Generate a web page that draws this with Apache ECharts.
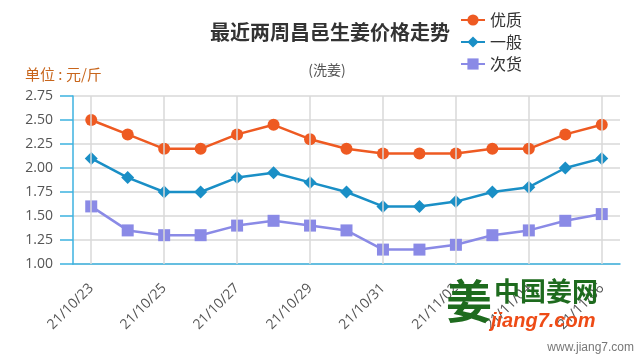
<!DOCTYPE html>
<html><head><meta charset="utf-8">
<script src="https://cdn.jsdelivr.net/npm/echarts@6/dist/echarts.min.js"></script>
<style>html,body{margin:0;padding:0;background:#fff}#c{width:640px;height:360px}</style>
</head><body><div id="c"></div>
<script>
const categories = ['21/10/23','21/10/24','21/10/25','21/10/26','21/10/27','21/10/28','21/10/29','21/10/30','21/10/31','21/11/01','21/11/02','21/11/03','21/11/04','21/11/05','21/11/06'];
const youzhi = [2.50,2.35,2.20,2.20,2.35,2.45,2.30,2.20,2.15,2.15,2.15,2.20,2.20,2.35,2.45];
const yiban  = [2.10,1.90,1.75,1.75,1.90,1.95,1.85,1.75,1.60,1.60,1.65,1.75,1.80,2.00,2.10];
const cihuo  = [1.60,1.35,1.30,1.30,1.40,1.45,1.40,1.35,1.15,1.15,1.20,1.30,1.35,1.45,1.52];
const seriesNames = ['优质','一般','次货'];
const yTicks = ['1.00','1.25','1.50','1.75','2.00','2.25','2.50','2.75'];
const gridCats = categories.filter((c,i)=>i%2===0);

const axisBlue = '#3cb2e0';
const chart = echarts.init(document.getElementById('c'));
chart.setOption({
  backgroundColor:'#fff',
  animation:false,
  title:[{text:'最近两周昌邑生姜价格走势', left:325, top:17, textAlign:'center',
     textStyle:{fontSize:20,fontWeight:'bold',color:'#333',fontFamily:'Noto Sans CJK SC'}},
    {text:'(洗姜)', left:322, top:58, textAlign:'center',
     textStyle:{fontSize:14,fontWeight:'normal',color:'#555',fontFamily:'Noto Sans CJK SC'}},
    {text:'单位 : 元/斤', left:20, top:62,
     textStyle:{fontSize:15,fontWeight:'normal',color:'#c8651b',fontFamily:'Noto Sans CJK SC'}}],
  legend:{orient:'vertical', left:455, top:7, itemGap:6, itemWidth:24, itemHeight:14,
    data:seriesNames, textStyle:{fontSize:16,color:'#333',fontFamily:'Noto Sans CJK SC'}},
  grid:{left:73,right:20,top:96,bottom:96},
  xAxis:{type:'category', data:categories, boundaryGap:true,
    axisLine:{lineStyle:{color:axisBlue,width:1.5}},
    axisTick:{alignWithLabel:true, interval:1, length:13, lineStyle:{color:axisBlue,width:1.5}},
    axisLabel:{interval:1, rotate:45, color:'#555', fontSize:14, fontFamily:'Open Sans', margin:22},
    splitLine:{show:false}},
  yAxis:{type:'value', min:1, max:2.75, interval:0.25,
    axisLine:{show:true,lineStyle:{color:axisBlue,width:1.5}},
    axisTick:{show:true,length:13,lineStyle:{color:axisBlue,width:1.5}},
    axisLabel:{color:'#555',fontSize:14,fontFamily:'Open Sans',margin:20,
      formatter:(v)=>yTicks[Math.round((v-1)/0.25)]},
    splitLine:{lineStyle:{color:'#d8d8d8',width:1.5}}},
  series:[
    {name:'grid', type:'line', data:[], z:1, silent:true,
     markLine:{silent:true, symbol:'none', label:{show:false},
       lineStyle:{color:'#d8d8d8',width:1.5,type:'solid'},
       data:gridCats.map(c=>({xAxis:c}))}},
    {name:seriesNames[0], type:'line', data:youzhi, symbol:'circle', symbolSize:12, z:3,
     itemStyle:{color:'#ee5a22'}, lineStyle:{width:2.5,color:'#ee5a22'}},
    {name:seriesNames[1], type:'line', data:yiban, symbol:'diamond', symbolSize:13, z:3,
     itemStyle:{color:'#1a8fc6'}, lineStyle:{width:2.5,color:'#1a8fc6'}},
    {name:seriesNames[2], type:'line', data:cihuo, symbol:'rect', symbolSize:12, z:3,
     itemStyle:{color:'#8a8ae6'}, lineStyle:{width:2.5,color:'#8a8ae6'}}
  ],
  graphic:[
    {type:'text', left:494, top:278, style:{text:'中国姜网', fontSize:26, fontWeight:'bold', fill:'#1e6b1e', fontFamily:'Noto Sans CJK SC'}, z:100},
    {type:'text', left:491, top:311, style:{text:'jiang7.com', fontSize:20, fontStyle:'italic', fontWeight:'bold', fill:'#ee4b16', fontFamily:'Liberation Sans'}, z:100},
    {type:'text', left:446, top:278, style:{text:'姜', fontSize:46, fontWeight:'bold', fill:'#1e6b1e', fontFamily:'Noto Sans CJK SC'}, z:100},
    {type:'text', right:6, top:342, style:{text:'www.jiang7.com', fontSize:12, fill:'#777', fontFamily:'Liberation Sans'}, z:100}
  ]
});
</script></body></html>
